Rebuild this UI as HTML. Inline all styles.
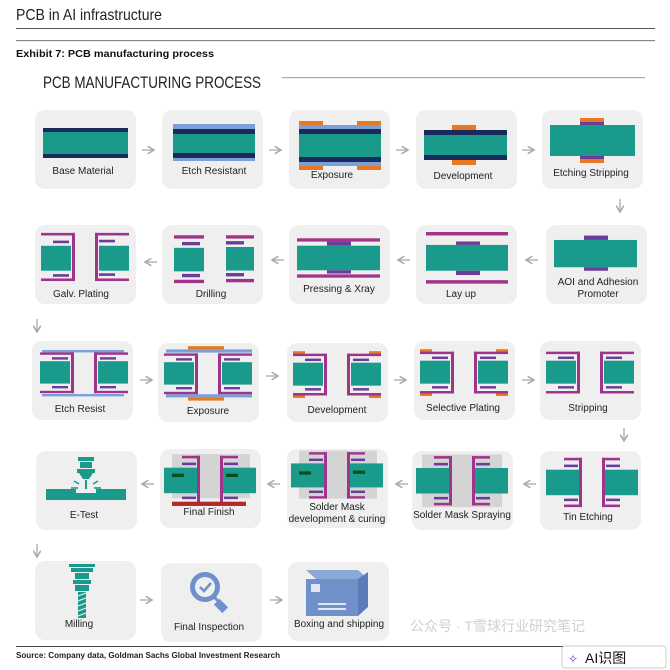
<!DOCTYPE html>
<html><head><meta charset="utf-8"><style>
html,body{margin:0;padding:0;background:#fff;}
svg{display:block;font-family:"Liberation Sans",sans-serif;}
.l{font-size:10px;fill:#222;text-anchor:middle;}
</style></head><body>
<svg width="670" height="670" viewBox="0 0 670 670" xmlns="http://www.w3.org/2000/svg">
<defs>
<g id="card"><rect x="0" y="0" width="101" height="79" rx="10" fill="#efefef"/></g>
<g id="via">
 <rect x="6" y="24" width="30" height="28" fill="#1a9a8a"/>
 <rect x="64" y="24" width="30" height="28" fill="#1a9a8a"/>
 <rect x="18" y="19" width="16" height="3" fill="#6a3d9a"/><rect x="18" y="55" width="16" height="3" fill="#6a3d9a"/>
 <rect x="66" y="19" width="16" height="3" fill="#6a3d9a"/><rect x="66" y="55" width="16" height="3" fill="#6a3d9a"/>
 <rect x="6" y="13" width="34" height="3" fill="#a0338a"/><rect x="37" y="13" width="3" height="51" fill="#a0338a"/><rect x="6" y="61" width="34" height="3" fill="#a0338a"/>
 <rect x="60" y="13" width="34" height="3" fill="#a0338a"/><rect x="60" y="13" width="3" height="51" fill="#a0338a"/><rect x="60" y="61" width="34" height="3" fill="#a0338a"/>
</g>
<g id="via2">
 <rect x="4" y="22" width="34" height="30" fill="#1a9a8a"/>
 <rect x="62" y="22" width="34" height="30" fill="#1a9a8a"/>
 <rect x="22" y="16" width="14" height="3" fill="#6a3d9a"/><rect x="22" y="56" width="14" height="3" fill="#6a3d9a"/>
 <rect x="64" y="16" width="14" height="3" fill="#6a3d9a"/><rect x="64" y="56" width="14" height="3" fill="#6a3d9a"/>
 <rect x="22" y="8" width="18" height="3" fill="#a0338a"/><rect x="37" y="8" width="3" height="58" fill="#a0338a"/><rect x="22" y="63" width="18" height="3" fill="#a0338a"/>
 <rect x="60" y="8" width="18" height="3" fill="#a0338a"/><rect x="60" y="8" width="3" height="58" fill="#a0338a"/><rect x="60" y="63" width="18" height="3" fill="#a0338a"/>
</g>
<marker id="ah" markerWidth="6" markerHeight="6" refX="5" refY="3" orient="auto"><path d="M0,0 L5,3 L0,6" fill="none" stroke="#aaa" stroke-width="1.2"/></marker>
</defs>

<!-- header -->
<text x="16" y="20" font-size="16" fill="#222" textLength="146" lengthAdjust="spacingAndGlyphs">PCB in AI infrastructure</text>
<rect x="16" y="28" width="639" height="1" fill="#555"/>
<rect x="16" y="40" width="639" height="1.2" fill="#888"/>
<text x="16" y="57" font-size="10.5" font-weight="bold" fill="#111" textLength="198" lengthAdjust="spacingAndGlyphs">Exhibit 7: PCB manufacturing process</text>
<text x="43" y="88" font-size="17" fill="#222" textLength="218" lengthAdjust="spacingAndGlyphs">PCB MANUFACTURING PROCESS</text>
<rect x="282" y="77" width="363" height="1.2" fill="#aaa"/>

<!-- arrows -->
<g stroke="#aaa" stroke-width="1.3" fill="none">
 <line x1="142" y1="150" x2="154" y2="150" marker-end="url(#ah)"/>
 <line x1="269" y1="150" x2="281" y2="150" marker-end="url(#ah)"/>
 <line x1="396" y1="150" x2="408" y2="150" marker-end="url(#ah)"/>
 <line x1="522" y1="150" x2="534" y2="150" marker-end="url(#ah)"/>
 <line x1="620" y1="199" x2="620" y2="212" marker-end="url(#ah)"/>
 <line x1="538" y1="260" x2="526" y2="260" marker-end="url(#ah)"/>
 <line x1="410" y1="260" x2="398" y2="260" marker-end="url(#ah)"/>
 <line x1="284" y1="260" x2="272" y2="260" marker-end="url(#ah)"/>
 <line x1="157" y1="262" x2="145" y2="262" marker-end="url(#ah)"/>
 <line x1="37" y1="319" x2="37" y2="332" marker-end="url(#ah)"/>
 <line x1="140" y1="380" x2="152" y2="380" marker-end="url(#ah)"/>
 <line x1="266" y1="376" x2="278" y2="376" marker-end="url(#ah)"/>
 <line x1="394" y1="380" x2="406" y2="380" marker-end="url(#ah)"/>
 <line x1="522" y1="380" x2="534" y2="380" marker-end="url(#ah)"/>
 <line x1="624" y1="428" x2="624" y2="441" marker-end="url(#ah)"/>
 <line x1="536" y1="484" x2="524" y2="484" marker-end="url(#ah)"/>
 <line x1="408" y1="484" x2="396" y2="484" marker-end="url(#ah)"/>
 <line x1="280" y1="484" x2="268" y2="484" marker-end="url(#ah)"/>
 <line x1="154" y1="484" x2="142" y2="484" marker-end="url(#ah)"/>
 <line x1="37" y1="544" x2="37" y2="557" marker-end="url(#ah)"/>
 <line x1="140" y1="600" x2="152" y2="600" marker-end="url(#ah)"/>
 <line x1="270" y1="600" x2="282" y2="600" marker-end="url(#ah)"/>
</g>

<!-- ROW 1 -->
<g transform="translate(35,110)"><use href="#card"/>
 <rect x="8" y="18" width="85" height="4" fill="#1b2a5c"/><rect x="8" y="22" width="85" height="22" fill="#1a9a8a"/><rect x="8" y="44" width="85" height="4" fill="#1b2a5c"/>
 <text class="l" x="48" y="64">Base Material</text></g>
<g transform="translate(162,110)"><use href="#card"/>
 <rect x="11" y="14" width="82" height="37" fill="#7aa0d6"/><rect x="11" y="19" width="82" height="5" fill="#1b2a5c"/><rect x="11" y="24" width="82" height="19" fill="#1a9a8a"/><rect x="11" y="43" width="82" height="5" fill="#1b2a5c"/>
 <text class="l" x="52" y="64">Etch Resistant</text></g>
<g transform="translate(289,110)"><use href="#card"/>
 <rect x="10" y="11" width="24" height="4" fill="#e87722"/><rect x="68" y="11" width="24" height="4" fill="#e87722"/>
 <rect x="10" y="15" width="82" height="4" fill="#7aa0d6"/><rect x="10" y="19" width="82" height="5" fill="#1b2a5c"/><rect x="10" y="24" width="82" height="23" fill="#1a9a8a"/><rect x="10" y="47" width="82" height="5" fill="#1b2a5c"/><rect x="10" y="52" width="82" height="4" fill="#7aa0d6"/>
 <rect x="10" y="56" width="24" height="4" fill="#e87722"/><rect x="68" y="56" width="24" height="4" fill="#e87722"/>
 <text class="l" x="43" y="68">Exposure</text></g>
<g transform="translate(416,110)"><use href="#card"/>
 <rect x="36" y="15" width="24" height="5" fill="#e87722"/><rect x="8" y="20" width="83" height="5" fill="#1b2a5c"/><rect x="8" y="25" width="83" height="20" fill="#1a9a8a"/><rect x="8" y="45" width="83" height="5" fill="#1b2a5c"/><rect x="36" y="50" width="24" height="5" fill="#e87722"/>
 <text class="l" x="47" y="69">Development</text></g>
<g transform="translate(542,110)"><use href="#card"/>
 <rect x="38" y="8" width="24" height="4" fill="#e87722"/><rect x="38" y="12" width="24" height="3" fill="#6a3d9a"/>
 <rect x="8" y="15" width="85" height="31" fill="#1a9a8a"/>
 <rect x="38" y="46" width="24" height="3" fill="#6a3d9a"/><rect x="38" y="49" width="24" height="4" fill="#e87722"/>
 <text class="l" x="49" y="66">Etching Stripping</text></g>

<!-- ROW 2 -->
<g transform="translate(35,225)"><use href="#card"/>
 <g transform="translate(0,1) scale(1,0.86)">
 <rect x="6" y="8" width="34" height="3" fill="#a0338a"/><rect x="37" y="8" width="3" height="56" fill="#a0338a"/><rect x="6" y="61" width="34" height="3" fill="#a0338a"/>
 <rect x="18" y="17" width="16" height="3" fill="#6a3d9a"/><rect x="6" y="23" width="30" height="29" fill="#1a9a8a"/><rect x="18" y="56" width="16" height="3" fill="#6a3d9a"/>
 <rect x="60" y="8" width="34" height="3" fill="#a0338a"/><rect x="60" y="8" width="3" height="56" fill="#a0338a"/><rect x="60" y="61" width="34" height="3" fill="#a0338a"/>
 <rect x="64" y="16" width="16" height="3" fill="#6a3d9a"/><rect x="64" y="23" width="30" height="29" fill="#1a9a8a"/><rect x="64" y="55" width="16" height="3" fill="#6a3d9a"/>
 </g>
 <text class="l" x="46" y="72">Galv. Plating</text></g>
<g transform="translate(162,225)"><use href="#card"/>
 <g transform="translate(0,1) scale(1,0.84)">
 <rect x="12" y="11" width="30" height="4" fill="#a0338a"/><rect x="20" y="19" width="18" height="4" fill="#6a3d9a"/><rect x="12" y="26" width="30" height="28" fill="#1a9a8a"/><rect x="20" y="57" width="18" height="4" fill="#6a3d9a"/><rect x="12" y="64" width="30" height="4" fill="#a0338a"/>
 <rect x="64" y="11" width="28" height="4" fill="#a0338a"/><rect x="64" y="18" width="18" height="4" fill="#6a3d9a"/><rect x="64" y="25" width="28" height="28" fill="#1a9a8a"/><rect x="64" y="56" width="18" height="4" fill="#6a3d9a"/><rect x="64" y="63" width="28" height="4" fill="#a0338a"/>
 </g>
 <text class="l" x="49" y="72">Drilling</text></g>
<g transform="translate(289,225)"><use href="#card"/>
 <g transform="translate(0,1) scale(1,0.82)">
 <rect x="8" y="15" width="83" height="4" fill="#a0338a"/><rect x="38" y="19" width="24" height="5" fill="#6a3d9a"/><rect x="8" y="24" width="83" height="30" fill="#1a9a8a"/><rect x="38" y="54" width="24" height="4" fill="#6a3d9a"/><rect x="8" y="59" width="83" height="4" fill="#a0338a"/>
 </g>
 <text class="l" x="50" y="67">Pressing &amp; Xray</text></g>
<g transform="translate(416,225)"><use href="#card"/>
 <g transform="translate(0,1) scale(1,0.86)">
 <rect x="10" y="7" width="82" height="4" fill="#a0338a"/><rect x="40" y="18" width="24" height="4" fill="#6a3d9a"/><rect x="10" y="22" width="82" height="30" fill="#1a9a8a"/><rect x="40" y="52" width="24" height="5" fill="#6a3d9a"/><rect x="10" y="63" width="82" height="4" fill="#a0338a"/>
 </g>
 <text class="l" x="45" y="72">Lay up</text></g>
<g transform="translate(546,225)"><use href="#card"/>
 <g transform="translate(0,0) scale(1,0.88)">
 <rect x="38" y="12" width="24" height="5" fill="#6a3d9a"/><rect x="8" y="17" width="83" height="31" fill="#1a9a8a"/><rect x="38" y="48" width="24" height="4" fill="#6a3d9a"/>
 </g>
 <text class="l" x="52" y="60">AOI and Adhesion</text><text class="l" x="52" y="72">Promoter</text></g>

<!-- ROW 3 -->
<g transform="translate(32,341)"><use href="#card"/>
 <g transform="translate(0,1) scale(1,0.8)">
 <rect x="10" y="10" width="82" height="3" fill="#7aa0d6"/><rect x="10" y="65" width="82" height="3" fill="#7aa0d6"/>
 <g transform="translate(2,0)"><use href="#via"/></g>
 </g>
 <text class="l" x="48" y="71">Etch Resist</text></g>
<g transform="translate(158,343)"><use href="#card"/>
 <g transform="translate(0,0) scale(1,0.8)">
 <rect x="30" y="4" width="36" height="4" fill="#e87722"/><rect x="8" y="8" width="86" height="4" fill="#7aa0d6"/><rect x="8" y="64" width="86" height="4" fill="#7aa0d6"/><rect x="30" y="68" width="36" height="4" fill="#e87722"/>
 <use href="#via"/>
 </g>
 <text class="l" x="50" y="71">Exposure</text></g>
<g transform="translate(287,343)"><use href="#card"/>
 <g transform="translate(0,0) scale(1,0.82)">
 <rect x="6" y="10" width="12" height="4" fill="#e87722"/><rect x="82" y="10" width="12" height="4" fill="#e87722"/><rect x="6" y="63" width="12" height="4" fill="#e87722"/><rect x="82" y="63" width="12" height="4" fill="#e87722"/>
 <use href="#via"/>
 </g>
 <text class="l" x="50" y="70">Development</text></g>
<g transform="translate(414,341)"><use href="#card"/>
 <g transform="translate(0,0) scale(1,0.82)">
 <rect x="6" y="10" width="12" height="4" fill="#e87722"/><rect x="82" y="10" width="12" height="4" fill="#e87722"/><rect x="6" y="63" width="12" height="4" fill="#e87722"/><rect x="82" y="63" width="12" height="4" fill="#e87722"/>
 <use href="#via"/>
 </g>
 <text class="l" x="49" y="70">Selective Plating</text></g>
<g transform="translate(540,341)"><use href="#card"/>
 <g transform="translate(0,0) scale(1,0.82)"><use href="#via"/></g>
 <text class="l" x="48" y="70">Stripping</text></g>

<!-- ROW 4 -->
<g transform="translate(36,451)"><use href="#card"/>
 <g fill="#1a9a8a">
  <rect x="42" y="6" width="16" height="4"/><rect x="44" y="11" width="12" height="6"/><rect x="41" y="18" width="18" height="4"/><path d="M43,22 L57,22 L53,28 L47,28 Z"/>
  <rect x="49" y="29" width="2" height="9"/>
  <rect x="10" y="38" width="80" height="11"/>
 </g>
 <g stroke="#1a9a8a" stroke-width="1.6"><line x1="38" y1="30" x2="43" y2="33"/><line x1="62" y1="30" x2="57" y2="33"/><line x1="35" y1="37" x2="42" y2="37"/><line x1="65" y1="37" x2="58" y2="37"/></g>
 <rect x="40" y="38" width="20" height="4" fill="#efefef"/>
 <text class="l" x="48" y="67">E-Test</text></g>
<g transform="translate(160,449)"><use href="#card"/>
 <g transform="translate(0,0) scale(1,0.85)">
 <rect x="12" y="6" width="78" height="52" fill="#d4d4d4"/>
 <use href="#via2"/>
 <rect x="12" y="29" width="12" height="4" fill="#0b4d1c"/><rect x="66" y="29" width="12" height="4" fill="#0b4d1c"/>
 <rect x="12" y="62" width="74" height="5" fill="#b02a2a"/>
 </g>
 <text class="l" x="49" y="66">Final Finish</text></g>
<g transform="translate(287,449)"><use href="#card"/>
 <g transform="translate(0,0) scale(1,0.8)">
 <rect x="12" y="2" width="78" height="60" fill="#d4d4d4"/>
 <use href="#via2" transform="translate(0,-4)"/>
 <rect x="12" y="28" width="12" height="4" fill="#0b4d1c"/><rect x="66" y="27" width="12" height="4" fill="#0b4d1c"/>
 </g>
 <text class="l" x="50" y="61">Solder Mask</text><text class="l" x="50" y="73">development &amp; curing</text></g>
<g transform="translate(412,451)"><use href="#card"/>
 <g transform="translate(0,0) scale(1,0.85)">
 <rect x="10" y="4" width="80" height="62" fill="#d4d4d4"/>
 <use href="#via2" transform="translate(0,-2)"/>
 </g>
 <text class="l" x="50" y="67">Solder Mask Spraying</text></g>
<g transform="translate(540,451)"><use href="#card"/>
 <g transform="translate(0,0) scale(1,0.85)"><use href="#via2" transform="translate(2,0)"/></g>
 <text class="l" x="48" y="69">Tin Etching</text></g>

<!-- ROW 5 -->
<g transform="translate(35,561)"><use href="#card"/>
 <g fill="#1a9a8a"><rect x="34" y="3" width="26" height="3"/><rect x="36" y="7" width="22" height="4"/><rect x="40" y="12" width="14" height="6"/><rect x="38" y="19" width="18" height="4"/><rect x="40" y="24" width="14" height="6"/></g>
 <rect x="43" y="31" width="8" height="26" fill="#1a9a8a"/>
 <g stroke="#efefef" stroke-width="1.2"><line x1="43" y1="35" x2="51" y2="32"/><line x1="43" y1="40" x2="51" y2="37"/><line x1="43" y1="45" x2="51" y2="42"/><line x1="43" y1="50" x2="51" y2="47"/><line x1="43" y1="55" x2="51" y2="52"/></g>
 <text class="l" x="44" y="66">Milling</text></g>
<g transform="translate(161,563)"><use href="#card"/>
 <circle cx="44" cy="24" r="15" fill="#6f90c8"/><circle cx="44" cy="24" r="10" fill="#efefef"/>
 <path d="M39,24 L43,28 L50,20" fill="none" stroke="#6f90c8" stroke-width="2.5"/>
 <path d="M53,34 L57,38" stroke="#6f90c8" stroke-width="3"/>
 <rect x="56" y="37" width="8" height="12" transform="rotate(-45 60 43)" fill="#6f90c8"/>
 <text class="l" x="48" y="67">Final Inspection</text></g>
<g transform="translate(288,562)"><use href="#card"/>
 <path d="M18,8 L70,8 L80,17 L28,17 Z" fill="#8aa8d8"/>
 <rect x="18" y="17" width="52" height="37" fill="#6f90c8"/>
 <path d="M70,17 L80,10 L80,45 L70,54 Z" fill="#5a7cb8"/>
 <rect x="23" y="22" width="9" height="8" fill="#dfe6f3"/>
 <rect x="30" y="41" width="28" height="2" fill="#dfe6f3"/><rect x="30" y="46" width="28" height="2" fill="#dfe6f3"/>
 <text class="l" x="51" y="65">Boxing and shipping</text></g>

<!-- footer -->
<rect x="16" y="646" width="639" height="1" fill="#444"/>
<text x="16" y="658" font-size="8" font-weight="bold" fill="#222" textLength="264" lengthAdjust="spacingAndGlyphs">Source: Company data, Goldman Sachs Global Investment Research</text>
<text x="410" y="631" font-size="14" fill="#d0d0d0" font-family="'Liberation Sans','Noto Sans CJK SC',sans-serif">公众号 · T雪球行业研究笔记</text>
<rect x="562" y="646" width="104" height="22" rx="3" fill="#fff" stroke="#ccc"/>
<text x="585" y="663" font-size="14" fill="#111" font-family="'Liberation Sans','Noto Sans CJK SC',sans-serif">AI识图</text>
<text x="568" y="663" font-size="12" fill="#6a3dd9">✧</text>
</svg>
</body></html>
